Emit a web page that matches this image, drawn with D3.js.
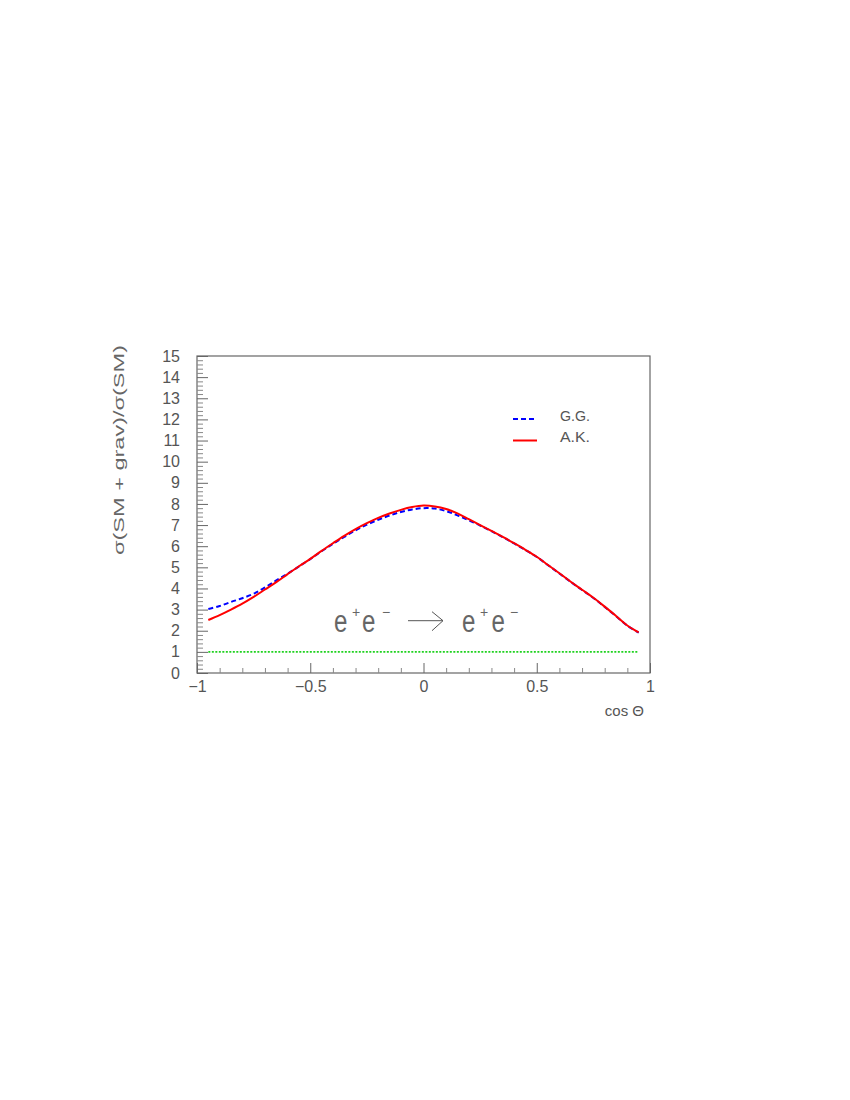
<!DOCTYPE html>
<html>
<head>
<meta charset="utf-8">
<script src="https://cdn.jsdelivr.net/npm/d3@7"></script>
<style>
  html, body { margin: 0; padding: 0; background: #fff; }
  svg { display: block; }
  text { font-family: "Liberation Sans", Arial, sans-serif; fill: #555; }
</style>
</head>
<body>
<svg id="chart" width="850" height="1100"></svg>
<script>
// ---- data ----
const cosTheta = [-0.95,-0.90,-0.85,-0.80,-0.75,-0.70,-0.65,-0.60,-0.55,-0.50,-0.45,-0.40,-0.35,-0.30,-0.25,-0.20,-0.15,-0.10,-0.05,0.00,0.05,0.10,0.15,0.20,0.25,0.30,0.35,0.40,0.45,0.50,0.55,0.60,0.65,0.70,0.75,0.80,0.85,0.90,0.95];
const akValues = [2.51,2.74,3.00,3.28,3.60,3.95,4.30,4.68,5.05,5.40,5.78,6.14,6.49,6.81,7.09,7.34,7.55,7.72,7.85,7.92,7.88,7.76,7.55,7.28,7.00,6.72,6.44,6.14,5.83,5.50,5.11,4.72,4.32,3.94,3.56,3.14,2.70,2.25,1.92];
const ggValues = [3.03,3.17,3.36,3.54,3.75,4.05,4.38,4.70,5.04,5.39,5.76,6.11,6.44,6.75,7.02,7.25,7.45,7.62,7.74,7.80,7.78,7.66,7.46,7.22,6.98,6.71,6.43,6.13,5.82,5.49,5.10,4.71,4.31,3.93,3.55,3.13,2.69,2.24,1.91];
const smRatio = [[-0.95, 1], [0.95, 1]];
const xMajorTicks = [-1, -0.5, 0, 0.5, 1];
const xTickLabels = ["\u22121", "\u22120.5", "0", "0.5", "1"];
const yMajorTicks = d3.range(0, 16, 1);
const legendLabels = ["G.G.", "A.K."];

// ---- layout ----
const svg = d3.select("#chart");
const L = 197, R = 650, T = 356, B = 673;
const x = d3.scaleLinear().domain([-1, 1]).range([L, R]);
const y = d3.scaleLinear().domain([0, 15]).range([B, T]);
const axisColor = "#666";

// frame
svg.append("rect").attr("x", L).attr("y", T).attr("width", R - L).attr("height", B - T)
  .attr("fill", "none").attr("stroke", axisColor).attr("stroke-width", 1.2);

// y axis minor ticks
const yMinor = d3.range(0, 15.001, 0.2).filter(v => Math.abs(v - Math.round(v)) > 1e-6);
svg.append("g").attr("transform", `translate(${L},0)`)
  .call(d3.axisLeft(y).tickValues(yMinor).tickSize(-6).tickFormat(""))
  .call(g => g.select(".domain").remove())
  .call(g => g.selectAll("line").attr("stroke", "#888"));
// y axis major
svg.append("g").attr("transform", `translate(${L},0)`)
  .call(d3.axisLeft(y).tickValues(yMajorTicks).tickSize(-11).tickPadding(17).tickFormat(d3.format("d")))
  .call(g => g.select(".domain").remove())
  .call(g => g.selectAll("line").attr("stroke", axisColor))
  .call(g => g.selectAll("text").attr("font-size", 16).style("fill", "#555")
    .attr("font-family", "Liberation Sans, Arial, sans-serif"));

// x axis minor
const xMinor = d3.range(-1, 1.0001, 0.1).filter(v => Math.abs(v * 2 - Math.round(v * 2)) > 1e-6);
svg.append("g").attr("transform", `translate(0,${B})`)
  .call(d3.axisBottom(x).tickValues(xMinor).tickSize(-5).tickFormat(""))
  .call(g => g.select(".domain").remove())
  .call(g => g.selectAll("line").attr("stroke", "#888"));
// x axis major
svg.append("g").attr("transform", `translate(0,${B})`)
  .call(d3.axisBottom(x).tickValues(xMajorTicks).tickSize(-10).tickFormat((d, i) => xTickLabels[i]))
  .call(g => g.select(".domain").remove())
  .call(g => g.selectAll("line").attr("stroke", axisColor))
  .call(g => g.selectAll("text").attr("y", 19).attr("dy", 0).attr("font-size", 16).style("fill", "#555")
    .attr("font-family", "Liberation Sans, Arial, sans-serif"));

// axis titles
svg.append("text").attr("x", 644).attr("y", 716).attr("text-anchor", "end")
  .attr("font-size", 15).text("cos \u0398");
svg.append("text").attr("transform", "translate(124,450) rotate(-90)")
  .attr("text-anchor", "middle").attr("font-size", 15).style("fill", "#666")
  .attr("textLength", 210).attr("lengthAdjust", "spacingAndGlyphs")
  .text("\u03C3(SM + grav)/\u03C3(SM)");

// lines
const line = d3.line().x(d => x(d[0])).y(d => y(d[1])).curve(d3.curveCatmullRom);
svg.append("path").datum(smRatio).attr("d", d3.line().x(d => x(d[0])).y(d => y(d[1])))
  .attr("fill", "none").attr("stroke", "#1fd21f").attr("stroke-width", 1.6).attr("stroke-dasharray", "2,1.5");
svg.append("path").datum(cosTheta.map((c, i) => [c, ggValues[i]])).attr("d", line)
  .attr("fill", "none").attr("stroke", "#0000ff").attr("stroke-width", 2).attr("stroke-dasharray", "5,3");
svg.append("path").datum(cosTheta.map((c, i) => [c, akValues[i]])).attr("d", line)
  .attr("fill", "none").attr("stroke", "#ff0000").attr("stroke-width", 2);

// legend
const lg = svg.append("g");
lg.append("line").attr("x1", 513).attr("x2", 536).attr("y1", 419).attr("y2", 419)
  .attr("stroke", "#0000ff").attr("stroke-width", 2).attr("stroke-dasharray", "5,3");
lg.append("line").attr("x1", 513).attr("x2", 537).attr("y1", 440.5).attr("y2", 440.5)
  .attr("stroke", "#ff0000").attr("stroke-width", 2);
lg.append("text").attr("x", 560).attr("y", 421).attr("font-size", 15)
  .attr("textLength", 30).attr("lengthAdjust", "spacingAndGlyphs").text(legendLabels[0]);
lg.append("text").attr("x", 560).attr("y", 442).attr("font-size", 15)
  .attr("textLength", 30).attr("lengthAdjust", "spacingAndGlyphs").text(legendLabels[1]);

// process annotation
const ann = svg.append("g");
function eTxt(xp) {
  ann.append("text").attr("transform", `translate(${xp},632) scale(1.05,1.35)`)
    .attr("font-size", 23).style("fill", "#666").text("e");
}
function sup(xp, s) {
  ann.append("text").attr("x", xp).attr("y", 616.5).attr("text-anchor", "middle")
    .attr("font-size", 14).style("fill", "#666").text(s);
}
eTxt(334); sup(356, "+"); eTxt(362); sup(386, "\u2212");
eTxt(462); sup(484, "+"); eTxt(491.5); sup(514, "\u2212");
ann.append("path").attr("d", "M408,620.7 L443,620.7 M432,611.7 L443,620.7 L432,630.7")
  .attr("fill", "none").attr("stroke", "#555").attr("stroke-width", 1);
</script>
</body>
</html>
